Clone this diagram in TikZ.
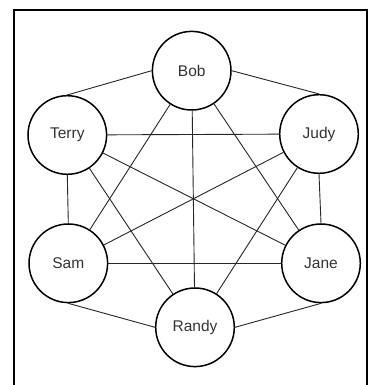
\documentclass[tikz,border=0pt]{standalone}
\usepackage{fontspec}
\setsansfont{Liberation Sans}
\usepackage{tikz}
\usetikzlibrary{positioning}

\tikzset{
	person/.style={circle, draw, line width=1.5pt, minimum size=78.6pt, inner sep=0pt,
		font=\sffamily\fontsize{15.5}{18}\selectfont, text=black!80},
	link/.style={line width=0.9pt, black!85}
}

\begin{document}
\begin{tikzpicture}[x=1pt, y=1pt]
		\useasboundingbox (0,0) rectangle (374,385);
		% frame
		\draw[line width=2pt] (14,-2) -- (14,374.5) -- (367,374.5) -- (367,-2);
		% people
		\node[person] (bob)   at (191.7,314.3) {Bob};
		\node[person] (terry) at (67.3,250)    {Terry};
		\node[person] (judy)  at (319,251)     {Judy};
		\node[person] (sam)   at (68.3,121.7)  {Sam};
		\node[person] (jane)  at (321,121.7)   {Jane};
		\node[person] (randy) at (195,57.7)    {Randy};
		% outer ring
		\draw[link] (terry.north) -- (bob.west);
		\draw[link] (bob.east) -- (judy.north);
		\draw[link] (terry.south) -- (sam.north);
		\draw[link] (judy.south) -- (jane.north);
		\draw[link] (sam.south) -- (randy.west);
		\draw[link] (randy.east) -- (jane.south);
		% across
		\draw[link] (bob) -- (randy);
		\draw[link] (bob) -- (sam);
		\draw[link] (bob) -- (jane);
		\draw[link] (terry) -- (judy);
		\draw[link] (terry) -- (jane);
		\draw[link] (terry) -- (randy);
		\draw[link] (judy) -- (sam);
		\draw[link] (judy) -- (randy);
		\draw[link] (sam) -- (jane);
	\end{tikzpicture}
\end{document}
